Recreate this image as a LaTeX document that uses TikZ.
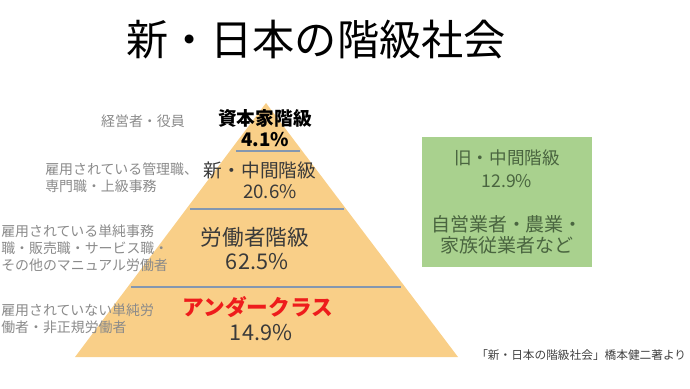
\documentclass[tikz,border=0pt]{standalone}
\usepackage{fontspec}
\setmainfont{Noto Sans CJK JP}
\usepackage{tikz}
\usetikzlibrary{positioning}
\definecolor{pyrorange}{HTML}{F9CF88}
\definecolor{pyrline}{HTML}{8497B0}
\definecolor{notegray}{HTML}{8A8A8A}
\definecolor{oldgreen}{HTML}{A9D18E}
\definecolor{oldtext}{HTML}{4A6540}
\definecolor{underred}{HTML}{EE1C1C}
\definecolor{classtext}{HTML}{3A3A3A}
\tikzset{
  headline/.style = {
    font=\fontsize{30}{34}\selectfont,
    text=black,
    inner sep=0pt
  },
  tierlabel/.style = {
    font=\fontsize{13.3}{15.5}\selectfont,
    text=classtext,
    align=center,
    inner sep=0pt
  },
  tierbig/.style = {
    tierlabel,
    font=\fontsize{15.4}{18}\selectfont
  },
  notelabel/.style = {
    font=\fontsize{9.9}{12}\selectfont,
    text=notegray,
    align=left,
    inner sep=0pt
  },
  oldbox/.style = {
    rectangle,
    fill=oldgreen,
    text=oldtext,
    font=\fontsize{12.5}{15}\selectfont,
    align=center,
    minimum width=4.25cm,
    minimum height=3.225cm,
    inner sep=0pt
  },
  sourcelabel/.style = {
    font=\fontsize{8.3}{11}\selectfont,
    text=black!75,
    inner sep=0pt
  },
  divider/.style = {
    draw=pyrline,
    line width=1.8pt
  }
}
\begin{document}
\begin{tikzpicture}[x=0.025cm, y=-0.025cm]
  \useasboundingbox (0, 0) rectangle (690, 388);

  % Title
  \node[headline] (title) at (316, 40) {新・日本の階級社会};

  % Pyramid
  \coordinate (apex) at (266, 103);
  \coordinate (baseL) at (75, 357);
  \coordinate (baseR) at (458, 357);
  \fill[pyrorange] (apex) -- (baseR) -- (baseL) -- cycle;

  % Tier dividers
  \draw[divider] (236, 151) -- (300, 151);
  \draw[divider] (190, 209) -- (344, 209);
  \draw[divider] (131, 287) -- (401, 287);

  % Tier labels
  \node[tierlabel, text=black, font=\fontsize{13.3}{15}\selectfont\bfseries] (capital) at (265, 128) {資本家階級\\4.1\%};
  \node[tierlabel] (newmiddle) at (260, 170) {新・中間階級};
  \node[tierlabel] (newmidpct) at (270, 192) {20.6\%};
  \node[tierbig] (worker) at (255, 237) {労働者階級};
  \node[tierbig] (workerpct) at (257, 262) {62.5\%};
  \node[tierbig, text=underred, font=\fontsize{15.4}{18}\selectfont\bfseries] (under) at (258, 307) {アンダークラス};
  \node[tierbig] (underpct) at (261, 333) {14.9\%};

  % Side notes
  \node[notelabel, anchor=east] (capnote) at (185, 121) {経営者・役員};
  \node[notelabel, anchor=west] (midnote) at (45, 178) {雇用されている管理職、\\専門職・上級事務};
  \node[notelabel, anchor=west] (worknote) at (1, 248) {雇用されている単純事務\\職・販売職・サービス職・\\その他のマニュアル労働者};
  \node[notelabel, anchor=west] (undernote) at (1, 319) {雇用されていない単純労\\働者・非正規労働者};

  % Old middle class box
  \node[oldbox] (oldmiddle) at (507, 202) {旧・中間階級\\[1pt]12.9\%\\[16pt]{\fontsize{13.5}{15.5}\selectfont 自営業者・農業・}\\{\fontsize{13.5}{15.5}\selectfont 家族従業者など}};

  % Source
  \node[sourcelabel, anchor=west] (source) at (476, 355) {「新・日本の階級社会」橋本健二著より};
\end{tikzpicture}
\end{document}
